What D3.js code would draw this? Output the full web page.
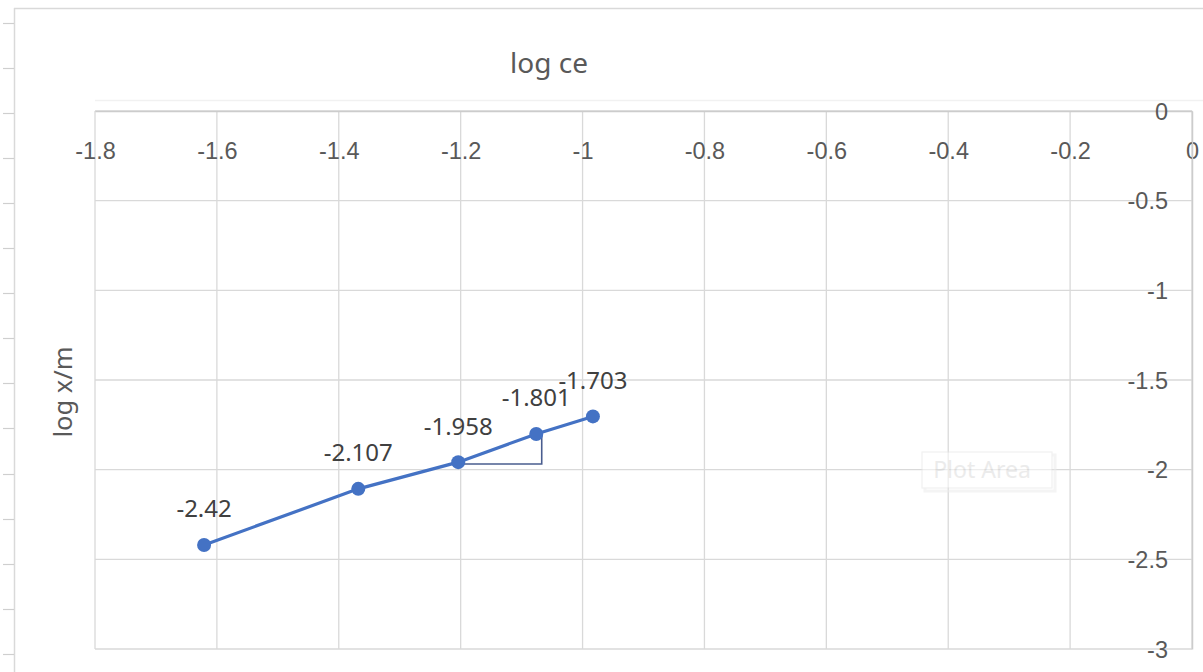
<!DOCTYPE html>
<html>
<head>
<meta charset="utf-8">
<script src="https://cdn.jsdelivr.net/npm/d3@7"></script>
<style>
  html, body { margin: 0; padding: 0; background: #ffffff; }
  svg { display: block; font-family: "Noto Sans", "Open Sans", sans-serif; }
</style>
</head>
<body>
<svg id="chart" width="1203" height="672"></svg>
<script>
// Freundlich isotherm: log ce vs log x/m
const logCe = [-1.621, -1.368, -1.204, -1.076, -0.983];
const logXm = [-2.42, -2.107, -1.958, -1.801, -1.703];
const xTicks = [-1.8, -1.6, -1.4, -1.2, -1, -0.8, -0.6, -0.4, -0.2, 0];
const yTicks = [0, -0.5, -1, -1.5, -2, -2.5, -3];
// slope guide drawn under the segment between the 3rd and 4th points
const slopeGuideX = [-1.204, -1.067, -1.067];
const slopeGuideY = [-1.968, -1.968, -1.795];

const svg = d3.select("#chart");
const W = 1203, H = 672;
const plot = { left: 95, right: 1192, top: 111, bottom: 649 };

// plain hyphen-minus for negative numbers
const num = d3.formatLocale({ decimal: ".", thousands: ",", grouping: [3], currency: ["", ""], minus: "-" }).format("~g");

const x = d3.scaleLinear().domain([-1.8, 0]).range([plot.left, plot.right]);
const y = d3.scaleLinear().domain([0, -3]).range([plot.top, plot.bottom]);

// outer frame with ruler marks on the left edge
svg.append("line").attr("x1", 14).attr("x2", W).attr("y1", 8.5).attr("y2", 8.5)
  .attr("stroke", "#d9d9d9").attr("stroke-width", 1.5);
svg.append("line").attr("x1", 14.5).attr("x2", 14.5).attr("y1", 8).attr("y2", H)
  .attr("stroke", "#d9d9d9").attr("stroke-width", 1.5);
svg.append("g").selectAll("line")
  .data(d3.range(23, H, 45.05))
  .join("line")
  .attr("x1", 3).attr("x2", 14)
  .attr("y1", d => Math.round(d) + 0.5).attr("y2", d => Math.round(d) + 0.5)
  .attr("stroke", "#cfcfcf").attr("stroke-width", 1.2);

// faint plot-area outline
svg.append("line").attr("x1", plot.left).attr("x2", W).attr("y1", 100.5).attr("y2", 100.5)
  .attr("stroke", "#f1f1f1").attr("stroke-width", 1.5);

// gridlines
const grid = svg.append("g").attr("stroke", "#d9d9d9").attr("stroke-width", 1.3);
grid.selectAll("line.v").data(xTicks).join("line").attr("class", "v")
  .attr("x1", d => x(d)).attr("x2", d => x(d))
  .attr("y1", plot.top).attr("y2", plot.bottom);
grid.selectAll("line.h").data(yTicks).join("line").attr("class", "h")
  .attr("x1", plot.left).attr("x2", plot.right)
  .attr("y1", d => y(d)).attr("y2", d => y(d));

// axis lines: x axis sits at y = 0 (top), y axis at x = 0 (right)
const xAxis = d3.axisTop(x).tickValues(xTicks).tickSize(0).tickFormat(num);
const gx = svg.append("g").attr("transform", `translate(0,${y(0)})`).call(xAxis);
gx.select(".domain").attr("stroke", "#cccccc").attr("stroke-width", 1.5);
gx.selectAll("text")
  .attr("dy", null)
  .attr("y", 48)
  .attr("fill", "#595959")
  .style("font-size", "23.5px");

const yAxis = d3.axisRight(y).tickValues(yTicks).tickSize(0).tickFormat(num);
const gy = svg.append("g").attr("transform", `translate(${x(0)},0)`).call(yAxis);
gy.select(".domain").attr("stroke", "#cccccc").attr("stroke-width", 1.5);
gy.selectAll("text")
  .attr("x", -24)
  .attr("dy", "0.34em")
  .attr("text-anchor", "end")
  .attr("fill", "#595959")
  .style("font-size", "23.5px");

// titles
svg.append("text").attr("x", 549).attr("y", 73).attr("text-anchor", "middle")
  .attr("fill", "#595959").style("font-size", "28px").text("log ce");
svg.append("text").attr("transform", "translate(72,392) rotate(-90)")
  .attr("text-anchor", "middle").attr("fill", "#595959")
  .style("font-size", "25.5px").text("log x/m");

// faded "Plot Area" hover tip
const tip = svg.append("g").attr("opacity", 0.55);
tip.append("rect").attr("x", 925).attr("y", 455).attr("width", 130).attr("height", 36)
  .attr("fill", "none").attr("stroke", "#ececec").attr("stroke-width", 3);
tip.append("rect").attr("x", 922).attr("y", 452).attr("width", 130).attr("height", 36)
  .attr("fill", "#ffffff").attr("stroke", "#e6e6e6").attr("stroke-width", 1.2);
tip.append("text").attr("x", 982).attr("y", 478).attr("text-anchor", "middle")
  .attr("fill", "#dcdcdc").style("font-size", "23px").text("Plot Area");

// slope guide
const guide = d3.line().x(d => x(d[0])).y(d => y(d[1]));
svg.append("path")
  .datum(slopeGuideX.map((v, i) => [v, slopeGuideY[i]]))
  .attr("d", guide).attr("fill", "none")
  .attr("stroke", "#4a5d8f").attr("stroke-width", 1.6);

// series
const pts = logCe.map((v, i) => [v, logXm[i]]);
svg.append("path").datum(pts)
  .attr("d", d3.line().x(d => x(d[0])).y(d => y(d[1])))
  .attr("fill", "none").attr("stroke", "#4472c4").attr("stroke-width", 3.2);
svg.append("g").selectAll("circle").data(pts).join("circle")
  .attr("cx", d => x(d[0])).attr("cy", d => y(d[1])).attr("r", 7)
  .attr("fill", "#4472c4");

// data labels
svg.append("g").selectAll("text").data(pts).join("text")
  .attr("x", d => x(d[0])).attr("y", d => y(d[1]) - 36)
  .attr("dy", "0.35em").attr("text-anchor", "middle")
  .attr("fill", "#404040").style("font-size", "24px")
  .text(d => num(d[1]));
</script>
</body>
</html>
